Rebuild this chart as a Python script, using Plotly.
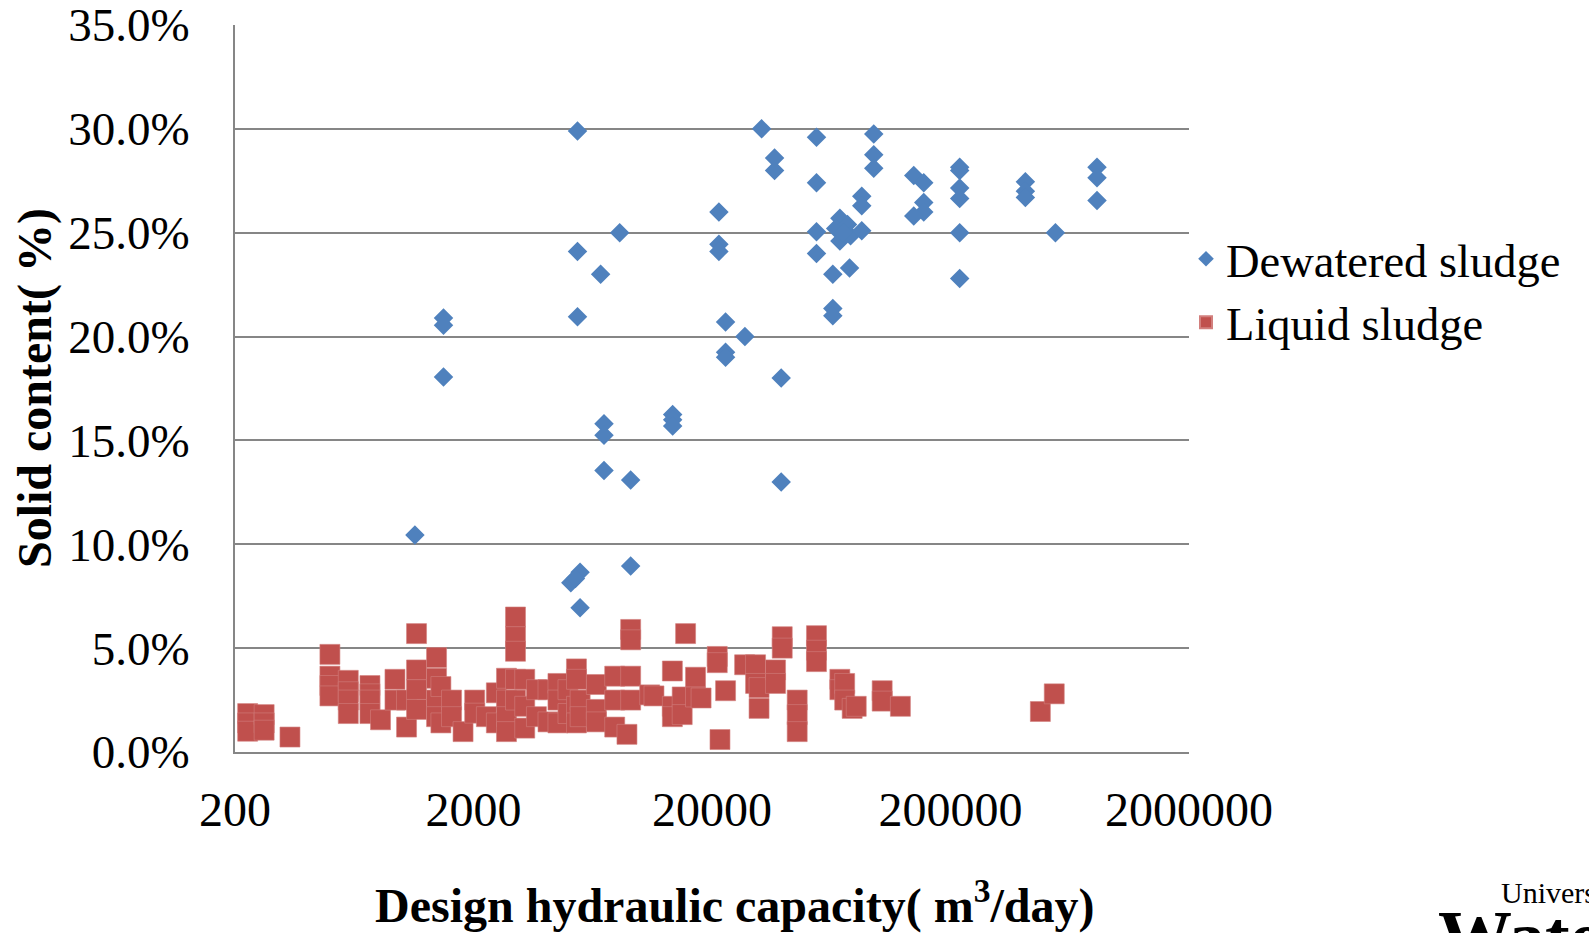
import plotly.graph_objects as go

# ---- Data ----
dewatered_capacity = [5458, 32280, 36580, 36580, 21380, 8204, 5458, 21380, 21380, 6824,
                      1497, 1497, 5458, 22800, 27480, 22800, 22800, 1497, 39000, 54840,
                      95320, 95320, 95320, 54840, 140300, 154500, 218600, 218600, 218600, 218600,
                      412000, 412000, 412000, 822600, 822600, 822600, 84920, 84920, 154500, 154500,
                      140300, 218600, 550800, 218600, 54840, 54840, 64200, 75460, 64200, 64200,
                      68720, 66000, 68720, 74000, 76200, 84920, 71000, 7050, 7050, 13680,
                      13680, 13680, 7050, 9120, 39000, 1136, 9120, 5118, 5594, 5350, 5594]
dewatered_solid = [29.9, 30.0, 28.6, 28.0, 26.0, 25.0, 24.1, 24.45, 24.1, 23.0,
                   20.9, 20.55, 20.95, 20.7, 20.0, 19.25, 19.0, 18.05, 18.0, 29.6,
                   29.75, 28.75, 28.1, 27.4, 27.75, 27.4, 28.15, 28.0, 27.15, 26.65,
                   27.45, 27.0, 26.7, 28.15, 27.65, 26.55, 26.75, 26.3, 26.45, 26.0,
                   25.8, 25.0, 25.0, 22.8, 25.05, 24.0, 23.0, 23.3, 21.35, 21.0,
                   25.7, 25.2, 24.6, 25.4, 24.85, 25.1, 25.0, 15.8, 15.25, 16.25,
                   16.0, 15.7, 13.55, 13.1, 13.0, 10.45, 8.95, 8.15, 8.65, 8.35, 6.95]

liquid_capacity = [226, 226, 226, 265, 265, 265, 340,
                   500, 500, 500, 500, 597, 597, 597, 597, 736, 736, 736, 736, 815,
                   937, 937, 1048, 1048, 1154, 1154, 1154, 1154, 1400, 1400, 1400, 1400,
                   1460, 1460, 1618, 1618, 1808, 2023, 2023, 2265, 2494, 2494,
                   2750, 2750, 2750, 2750, 3000, 3000, 3000, 3000, 3000, 3280, 3280, 3280,
                   3672, 3672, 4107, 4107, 4520, 4520, 4520, 4980, 4980,
                   5404, 5404, 5404, 5404, 5600, 5600, 6548, 6548, 6548, 7818, 7818, 7818,
                   9120, 9120, 9120, 9120, 8800, 10960, 11420, 13640, 13640, 13640,
                   15500, 15000, 15000, 17060, 17060, 18000, 21040, 21040, 21600, 22800,
                   27400, 30460, 30460, 31500, 31500, 36940, 36940, 39400, 39400,
                   45520, 45520, 45520, 54840, 54840, 54840, 68720, 68720, 72000, 72000,
                   77400, 80500, 103400, 103400, 123300, 476200, 544600]
liquid_solid = [1.85, 1.4, 1.0, 1.8, 1.4, 1.05, 0.72,
                4.7, 3.65, 3.2, 2.7, 3.45, 2.9, 2.5, 1.85, 3.2, 2.8, 2.5, 1.85, 1.55,
                3.5, 2.5, 2.5, 1.2, 5.7, 3.95, 3.0, 2.05, 4.55, 3.55, 2.5, 1.7,
                3.15, 1.4, 2.5, 1.7, 0.98, 2.5, 1.87, 1.7, 2.85, 1.4,
                3.55, 2.5, 1.7, 0.98, 6.5, 5.55, 4.85, 3.5, 2.5, 3.5, 2.2, 1.15,
                3.0, 1.7, 3.0, 1.45, 3.3, 2.5, 1.4, 3.0, 1.85,
                4.0, 3.5, 2.2, 1.4, 2.5, 1.7, 3.25, 2.05, 1.45, 3.65, 2.5, 1.2,
                5.9, 5.4, 3.65, 2.5, 0.85, 2.75, 2.7, 3.9, 2.2, 1.7,
                5.7, 2.65, 1.8, 3.6, 2.65, 2.6, 4.6, 4.3, 0.6, 2.95,
                4.2, 4.2, 3.3, 3.1, 2.1, 3.95, 3.3, 5.55, 5.0,
                2.5, 1.8, 0.98, 5.6, 4.9, 4.35, 3.5, 3.0, 3.3, 2.5,
                2.1, 2.2, 2.95, 2.45, 2.2, 1.95, 2.8]

x_tick_values = [200, 2000, 20000, 200000, 2000000]
x_tick_labels = ["200", "2000", "20000", "200000", "2000000"]
y_tick_values = [0, 5, 10, 15, 20, 25, 30, 35]
y_tick_labels = ["0.0%", "5.0%", "10.0%", "15.0%", "20.0%", "25.0%", "30.0%", "35.0%"]

FONT = "Liberation Serif, Times New Roman, serif"
W, H = 1589, 933
L, R, T, B = 235, 1189, 25, 752  # plot area pixel box

def px(xp):
    return (xp - L) / (R - L)

def py(yp):
    return (B - yp) / (B - T)

fig = go.Figure()
fig.add_trace(go.Scatter(
    x=dewatered_capacity, y=dewatered_solid, mode="markers", name="Dewatered sludge",
    marker=dict(symbol="diamond", size=15, color="#4F81BD", line=dict(width=0)),
))
fig.add_trace(go.Scatter(
    x=liquid_capacity, y=liquid_solid, mode="markers", name="Liquid sludge",
    marker=dict(symbol="square", size=20, color="#C0504D",
                line=dict(width=0.6, color="#D27F7D")),
))

fig.update_layout(
    width=W, height=H, autosize=False,
    margin=dict(l=L, r=W - R, t=T, b=H - B, pad=0, autoexpand=False),
    paper_bgcolor="white", plot_bgcolor="white",
    font=dict(family=FONT, size=47, color="black"),
    showlegend=True,
    legend=dict(x=px(1186), y=py(222), xanchor="left", yanchor="top",
                font=dict(family=FONT, size=46.5, color="black"),
                bgcolor="rgba(0,0,0,0)", itemsizing="constant", tracegroupgap=0),
    xaxis=dict(
        type="log", range=[2.30103, 6.30103], automargin=False,
        tickmode="array", tickvals=x_tick_values, ticktext=x_tick_labels,
        showgrid=False, zeroline=False,
        showline=True, linecolor="#868686", linewidth=2,
        ticks="", ticklabelstandoff=14, ticklabeloverflow="allow",
        tickfont=dict(family=FONT, size=48, color="black"),
    ),
    yaxis=dict(
        range=[0, 35], automargin=False,
        tickmode="array", tickvals=y_tick_values, ticktext=y_tick_labels,
        showgrid=True, gridcolor="#868686", gridwidth=1.5,
        zeroline=False, showline=True, linecolor="#868686", linewidth=2,
        ticks="", ticklabelstandoff=34, ticklabeloverflow="allow",
        tickfont=dict(family=FONT, size=47, color="black"),
    ),
)

# axis titles
fig.add_annotation(xref="paper", yref="paper", x=px(734), y=py(903),
                   xanchor="center", yanchor="middle", showarrow=False,
                   text="<b>Design hydraulic capacity( m<sup>3</sup>/day)</b>",
                   font=dict(family=FONT, size=48, color="black"))
fig.add_annotation(xref="paper", yref="paper", x=px(35), y=py(388),
                   xanchor="center", yanchor="middle", showarrow=False, textangle=-90,
                   text="<b>Solid content( %)</b>",
                   font=dict(family=FONT, size=48, color="black"))

# partial logo text at the bottom-right corner
fig.add_annotation(xref="paper", yref="paper", x=px(1499), y=py(874),
                   xanchor="left", yanchor="top", showarrow=False,
                   text="University of", font=dict(family=FONT, size=30, color="black"))
fig.add_annotation(xref="paper", yref="paper", x=px(1436), y=py(894),
                   xanchor="left", yanchor="top", showarrow=False,
                   text="<b>Waterloo</b>", font=dict(family=FONT, size=74, color="black"))

fig.write_html("out.html", config={"displayModeBar": False},
               post_script="document.body.style.margin='0';")
